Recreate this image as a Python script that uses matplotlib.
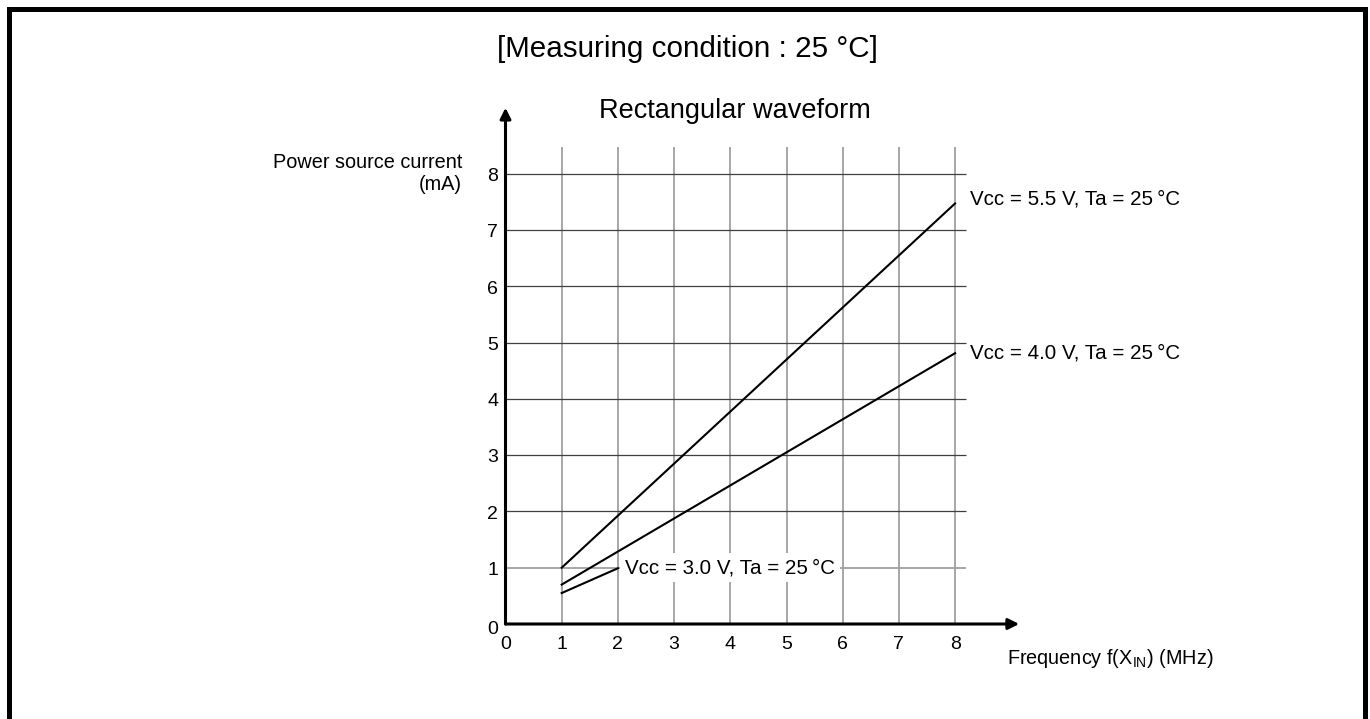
import matplotlib
matplotlib.use("Agg")
import matplotlib.pyplot as plt
from matplotlib.patches import Rectangle

plt.rcParams['font.family'] = ['Liberation Sans', 'DejaVu Sans']
plt.rcParams['mathtext.fontset'] = 'custom'
plt.rcParams['mathtext.rm'] = 'Liberation Sans'

# ---- data (frequency in MHz, current in mA) ----
freq_55 = [1, 8]
curr_55 = [1.0, 7.47]
freq_40 = [1, 8]
curr_40 = [0.70, 4.81]
freq_30 = [1, 2]
curr_30 = [0.55, 0.99]

x_ticks = [0, 1, 2, 3, 4, 5, 6, 7, 8]
y_ticks = [0, 1, 2, 3, 4, 5, 6, 7, 8]

label_55 = "Vcc = 5.5 V, Ta = 25\u2009°C"
label_40 = "Vcc = 4.0 V, Ta = 25\u2009°C"
label_30 = "Vcc = 3.0 V, Ta = 25\u2009°C"

W, H = 1370, 719
fig = plt.figure(figsize=(W / 100, H / 100), dpi=100)

# axes placed so that one unit is ~56 px in both directions
ax = fig.add_axes([449.3 / W, 38.7 / H, 618.2 / W, 619.3 / H])
ax.set_xlim(-1, 10)
ax.set_ylim(-1, 10)
ax.axis('off')

# grid
grid_light = '#a0a0a0'
grid_dark = '#404040'
ax.vlines(x_ticks[1:], 0, 8.48, color=grid_light, lw=1.3, zorder=1)
for y in y_ticks[1:]:
    ax.hlines(y, 0, 8.2, color=grid_light if y == 1 else grid_dark,
              lw=1.3 if y == 1 else 0.9, zorder=1)

# axes with arrow heads
arrow = dict(arrowstyle='-|>', lw=2.2, color='black', mutation_scale=16,
             shrinkA=0, shrinkB=0)
ax.annotate('', xy=(0, 9.17), xytext=(0, 0), arrowprops=arrow, zorder=5)
ax.annotate('', xy=(9.14, 0), xytext=(0, 0), arrowprops=arrow, zorder=5)

# curves
ax.plot(freq_55, curr_55, color='black', lw=1.5, zorder=4)
ax.plot(freq_40, curr_40, color='black', lw=1.5, zorder=4)
ax.plot(freq_30, curr_30, color='black', lw=1.5, zorder=4)

# tick labels
for x in x_ticks:
    ax.text(x, -0.36, str(x), ha='center', va='center', fontsize=14)
for y in y_ticks:
    ax.text(-0.13, y - (0.1 if y == 0 else 0.05), str(y), ha='right',
            va='center', fontsize=14)

# curve labels
ax.text(8.27, 7.55, label_55, ha='left', va='center', fontsize=14.8)
ax.text(8.27, 4.82, label_40, ha='left', va='center', fontsize=14.8)
ax.text(2.13, 1.0, label_30, ha='left', va='center', fontsize=14.8, zorder=3,
        bbox=dict(boxstyle='square,pad=0.25', fc='white', ec='none'))

# axis titles
ax.text(-0.77, 8.0, "Power source current\n(mA)", ha='right', va='center',
        multialignment='right', fontsize=14.3, linespacing=1.2)
ax.text(8.92, -0.62, r"Frequency f(X$_{\mathregular{IN}}$) (MHz)", ha='left',
        va='center', fontsize=14.3)

fig.text(735 / W, 601 / H, "Rectangular waveform", ha='center',
         va='baseline', fontsize=19.5)
fig.text(687.5 / W, 0.932, "[Measuring condition : 25 °C]", ha='center',
         va='center', fontsize=21.3)

# outer frame (bottom edge lies outside the image)
fig.patches.append(Rectangle((9.2 / W, -0.05), (1364.5 - 9.2) / W,
                             (H - 9.2) / H + 0.05, transform=fig.transFigure,
                             fill=False, ec='black', lw=3.6))

fig.savefig("out.png", dpi=100)
